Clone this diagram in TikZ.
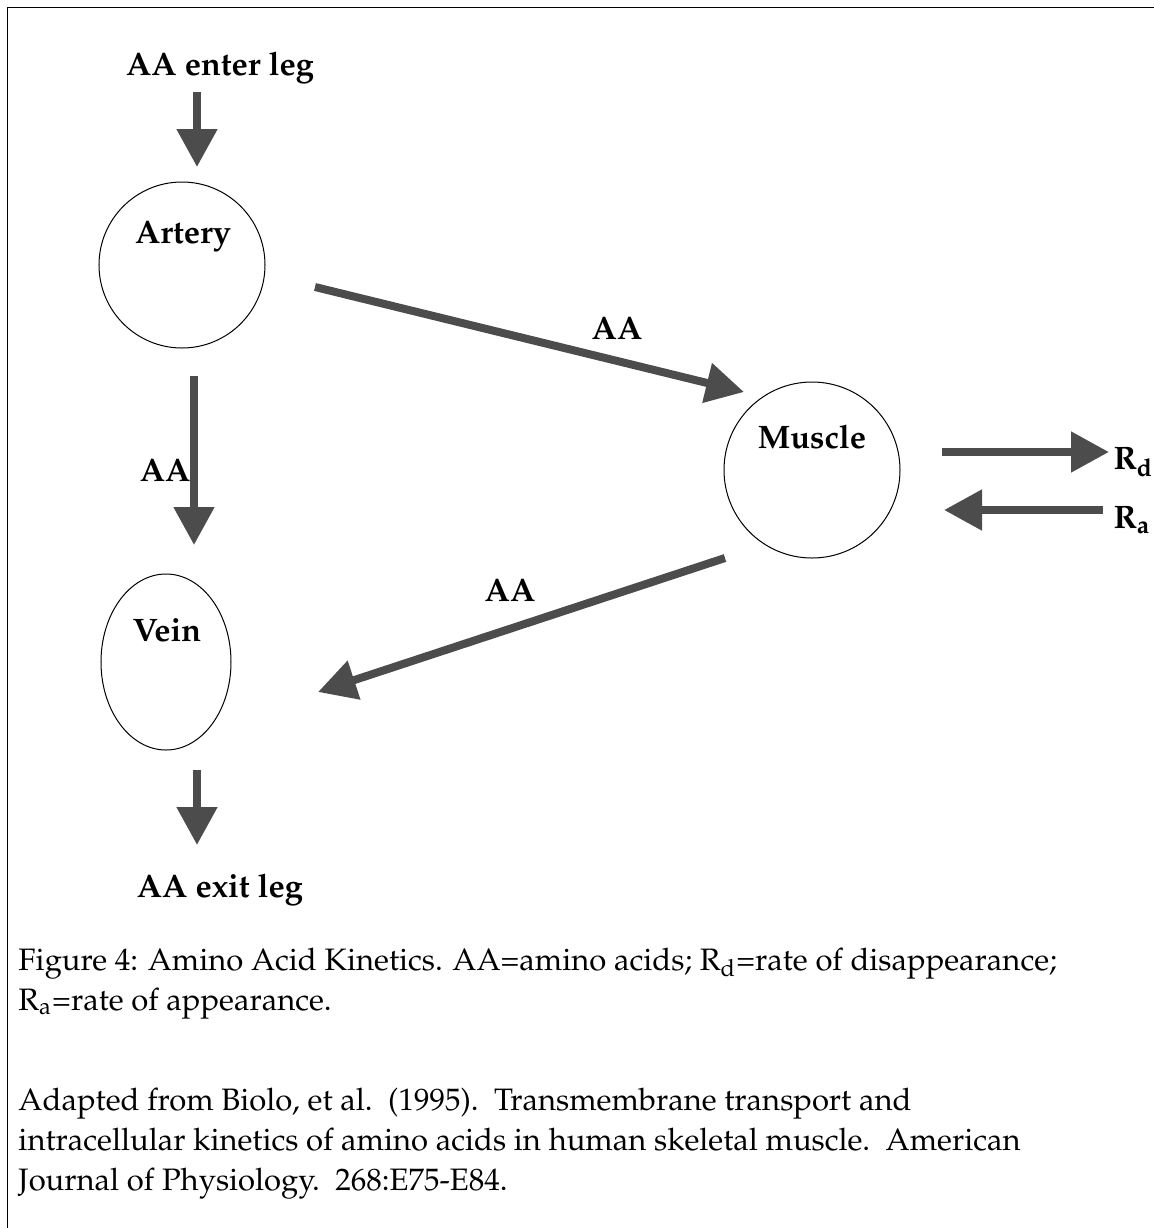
\documentclass[tikz,border=0pt]{standalone}
\usepackage[T1]{fontenc}
\usepackage{mathpazo}
\usetikzlibrary{arrows.meta,positioning,shapes.geometric}

\begin{document}
\begin{tikzpicture}[
  x=0.4pt, y=-0.4pt,
  lbl/.style={font=\fontsize{13}{15}\selectfont\bfseries, inner sep=0pt},
  pool/.style={circle, draw, thin, inner sep=0pt},
  flow/.style={-{Triangle[length=15.2pt,width=15.6pt]}, line width=3.2pt, black!70},
  capt/.style={font=\fontsize{12.4}{16}\selectfont, anchor=base west, inner sep=0pt},
]
\useasboundingbox (0,0) rectangle (1154,1228);
\draw[thin] (7,1228) -- (7,7) -- (1154,7);

\node[lbl] (enter) at (220,68) {AA enter leg};
\node[pool, minimum size=66.4pt] (artery) at (182,265) {};
\node[lbl] (arterytxt) at (183,236) {Artery};
\node[pool, minimum size=70.4pt] (muscle) at (812,470) {};
\node[lbl] (muscletxt) at (812,437) {Muscle};
\node[draw, thin, ellipse, minimum width=52pt, minimum height=70.4pt] (vein) at (166,662) {};
\node[lbl] (veintxt) at (167,630) {Vein};
\node[lbl] (exit) at (220,890) {AA exit leg};

\node[lbl] (aa1) at (617,328) {AA};
\node[lbl, anchor=east] (aa2) at (191,470) {AA};
\node[lbl] (aa3) at (510,590) {AA};
\node[lbl, anchor=west] (rd) at (1113,462) {R\textsubscript{d}};
\node[lbl, anchor=west] (ra) at (1113,520) {R\textsubscript{a}};

\coordinate (enter-s) at (197,92);
\coordinate (artery-n) at (197,167);
\coordinate (artery-e) at (315,287);
\coordinate (muscle-w) at (744,392);
\coordinate (artery-s) at (194,376);
\coordinate (vein-n) at (194,545);
\coordinate (muscle-sw) at (725,558);
\coordinate (vein-e) at (318,692);
\coordinate (vein-s) at (197,770);
\coordinate (exit-n) at (197,845);
\coordinate (muscle-e1) at (942,452);
\coordinate (rd-w) at (1109,452);
\coordinate (ra-w) at (1103,510);
\coordinate (muscle-e2) at (944,510);

\draw[flow] (enter-s) -- (artery-n);
\draw[flow] (artery-e) -- (muscle-w);
\draw[flow] (artery-s) -- (vein-n);
\draw[flow] (muscle-sw) -- (vein-e);
\draw[flow] (vein-s) -- (exit-n);
\draw[flow] (muscle-e1) -- (rd-w);
\draw[flow] (ra-w) -- (muscle-e2);

\node[capt] (cap1) at (18,970) {Figure 4: Amino Acid Kinetics. AA=amino acids; R\textsubscript{d}=rate of disappearance;};
\node[capt] (cap2) at (18,1010) {R\textsubscript{a}=rate of appearance.};
\node[capt] (src1) at (18,1110) {Adapted from Biolo, et al.\ \ (1995).\ \ Transmembrane transport and};
\node[capt] (src2) at (18,1150) {intracellular kinetics of amino acids in human skeletal muscle.\ \ American};
\node[capt] (src3) at (18,1190) {Journal of Physiology.\ \ 268:E75-E84.};
\end{tikzpicture}
\end{document}
